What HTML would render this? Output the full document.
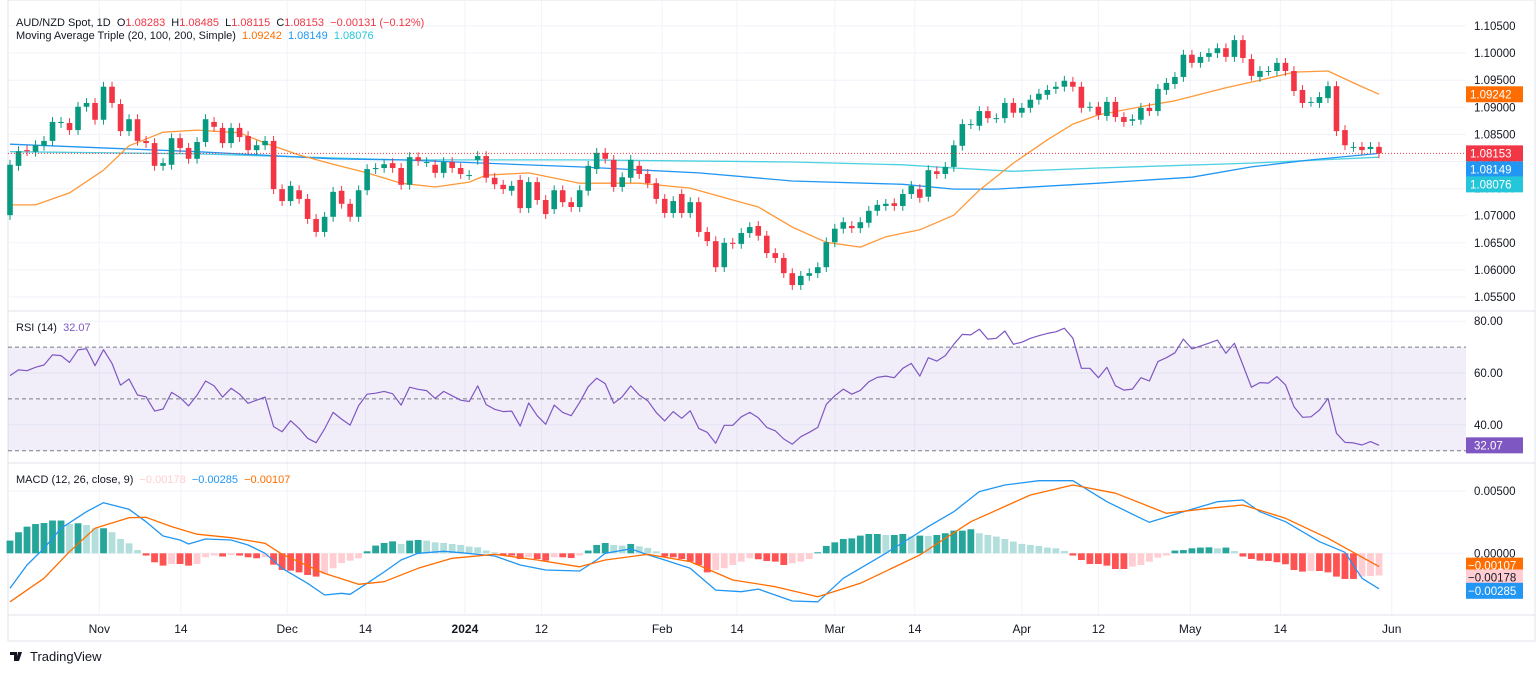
<!DOCTYPE html>
<html><head><meta charset="utf-8">
<style>
html,body{margin:0;padding:0;background:#fff;}
body{width:1536px;height:673px;overflow:hidden;font-family:"Liberation Sans",sans-serif;}
svg text{font-family:"Liberation Sans",sans-serif;}
</style></head>
<body>
<svg id="chart" width="1536" height="673" viewBox="0 0 1536 673" xmlns="http://www.w3.org/2000/svg">
  <rect x="8" y="0" width="1527" height="641" fill="#fff" stroke="#e0e3eb" stroke-width="1"/>
  <g id="grid"></g>
  <g id="price"></g>
  <g id="rsi"></g>
  <g id="macd"></g>
  <g id="axes"></g>
  <line x1="8" y1="311" x2="1535" y2="311" stroke="#e0e3eb"/>
  <line x1="8" y1="463" x2="1535" y2="463" stroke="#e0e3eb"/>
  <line x1="8" y1="615" x2="1535" y2="615" stroke="#e0e3eb"/>
  <text x="16" y="26" font-size="11" fill="#131722" xml:space="preserve">AUD/NZD Spot, 1D  O<tspan fill="#f23645">1.08283</tspan>  H<tspan fill="#f23645">1.08485</tspan>  L<tspan fill="#f23645">1.08115</tspan>  C<tspan fill="#f23645">1.08153</tspan>  <tspan fill="#f23645">−0.00131 (−0.12%)</tspan></text>
  <text x="16" y="39" font-size="11" fill="#131722" xml:space="preserve">Moving Average Triple (20, 100, 200, Simple)  <tspan fill="#ff6d00">1.09242</tspan>  <tspan fill="#2196f3">1.08149</tspan>  <tspan fill="#26c6da">1.08076</tspan></text>
  <text x="16" y="331" font-size="11" fill="#131722" xml:space="preserve">RSI (14)  <tspan fill="#7e57c2">32.07</tspan></text>
  <text x="16" y="483" font-size="11" fill="#131722" xml:space="preserve">MACD (12, 26, close, 9)  <tspan fill="#ffcdd2">−0.00178</tspan>  <tspan fill="#2196f3">−0.00285</tspan>  <tspan fill="#ff6d00">−0.00107</tspan></text>
  <g>
    <path d="M10 652h7v9h-3v-6h-4z M18 652h4l-3 9h-3z" fill="#131722"/>
    <text x="30" y="661" font-size="13" fill="#131722">TradingView</text>
  </g>
</svg>
<script>
// ---- data ----
const opens=[1.0701,1.0792,1.0821,1.0818,1.0829,1.0838,1.0871,1.0871,1.0858,1.0901,1.0908,1.0877,1.0938,1.0906,1.0856,1.0878,1.0838,1.0834,1.0792,1.0794,1.0843,1.0825,1.0805,1.0836,1.0873,1.0862,1.0834,1.0862,1.0847,1.0821,1.0830,1.0838,1.0749,1.0727,1.0747,1.0731,1.0694,1.0670,1.0698,1.0746,1.0722,1.0698,1.0747,1.0786,1.0788,1.0797,1.0788,1.0757,1.0808,1.0799,1.0794,1.0779,1.0799,1.0788,1.0775,1.0803,1.0810,1.0770,1.0757,1.0746,1.0766,1.0714,1.0762,1.0729,1.0712,1.0747,1.0725,1.0716,1.0746,1.0786,1.0816,1.0803,1.0753,1.0770,1.0792,1.0777,1.0760,1.0731,1.0705,1.0740,1.0705,1.0725,1.0670,1.0653,1.0605,1.0650,1.0648,1.0668,1.0681,1.0663,1.0631,1.0622,1.0594,1.0572,1.0589,1.0594,1.0605,1.0651,1.0676,1.0681,1.0677,1.0687,1.0709,1.0718,1.0723,1.0718,1.0740,1.0749,1.0735,1.0782,1.0777,1.0790,1.0829,1.0869,1.0866,1.0893,1.0880,1.0880,1.0908,1.0890,1.0899,1.0914,1.0923,1.0934,1.0938,1.0947,1.0938,1.0901,1.0901,1.0884,1.0910,1.0882,1.0875,1.0877,1.0899,1.0893,1.0932,1.0943,1.0956,1.0997,1.0982,1.0993,1.1000,1.1009,1.0993,1.1024,1.0989,1.0956,1.0967,1.0967,1.0982,1.0967,1.0932,1.0910,1.0908,1.0917,1.0939,1.0858,1.0827,1.0827,1.0823,1.0827];
const closes=[1.0794,1.0819,1.0819,1.0830,1.0838,1.0873,1.0873,1.0858,1.0901,1.0908,1.0877,1.0938,1.0908,1.0856,1.0878,1.0838,1.0834,1.0792,1.0797,1.0843,1.0825,1.0805,1.0836,1.0878,1.0864,1.0834,1.0862,1.0845,1.0821,1.0830,1.0838,1.0749,1.0727,1.0755,1.0731,1.0694,1.0670,1.0698,1.0744,1.0722,1.0698,1.0747,1.0786,1.0788,1.0795,1.0788,1.0757,1.0808,1.0801,1.0799,1.0779,1.0799,1.0788,1.0777,1.0775,1.0810,1.0770,1.0758,1.0749,1.0755,1.0714,1.0762,1.0729,1.0703,1.0747,1.0725,1.0716,1.0747,1.0792,1.0816,1.0805,1.0753,1.0771,1.0803,1.0777,1.0760,1.0731,1.0705,1.0727,1.0705,1.0725,1.0670,1.0653,1.0605,1.0650,1.0648,1.0668,1.0679,1.0663,1.0631,1.0622,1.0594,1.0572,1.0589,1.0594,1.0605,1.0651,1.0676,1.0688,1.0677,1.0688,1.0709,1.0720,1.0722,1.0718,1.0740,1.0755,1.0733,1.0784,1.0777,1.0790,1.0830,1.0869,1.0869,1.0893,1.0880,1.0880,1.0908,1.0890,1.0899,1.0914,1.0925,1.0932,1.0938,1.0949,1.0938,1.0899,1.0901,1.0886,1.0910,1.0882,1.0873,1.0878,1.0899,1.0893,1.0934,1.0945,1.0956,1.0997,1.0982,1.0993,1.1000,1.1009,1.0993,1.1024,1.0991,1.0958,1.0967,1.0967,1.0982,1.0967,1.0930,1.0908,1.0910,1.0919,1.0939,1.0856,1.0830,1.0827,1.0821,1.0827,1.0815];
const ma20Idx=[0,3,7,11,14,18,22,27,30,34,38,42,46,50,54,56,61,67,74,80,85,88,92,96,100,103,107,111,114,118,122,125,128,134,137,143,147,151,155,158,161];
const ma20Val=[1.0720,1.0720,1.0742,1.0784,1.0829,1.0854,1.0858,1.0853,1.0834,1.0812,1.0795,1.0779,1.0760,1.0753,1.0762,1.0775,1.0779,1.0760,1.0760,1.0751,1.0729,1.0716,1.0679,1.0651,1.0642,1.0661,1.0674,1.0701,1.0747,1.0797,1.0840,1.0869,1.0886,1.0904,1.0912,1.0936,1.0950,1.0965,1.0967,1.0945,1.0924];
const ma100Idx=[0,22,38,46,67,81,92,105,111,116,128,139,146,153,161];
const ma100Val=[1.0832,1.0818,1.0805,1.0803,1.0790,1.0779,1.0764,1.0758,1.0749,1.0749,1.0760,1.0771,1.0790,1.0803,1.0815];
const ma200Idx=[0,22,46,67,92,105,111,118,128,146,161];
const ma200Val=[1.0818,1.0814,1.0803,1.0803,1.0799,1.0794,1.0788,1.0782,1.0788,1.0797,1.0808];
const priceTicks=[1.055,1.060,1.065,1.070,1.075,1.080,1.085,1.090,1.095,1.100,1.105];
const rsiVals=[59.0,61.2,60.9,62.2,63.1,67.0,66.7,64.1,68.9,69.4,62.8,69.0,63.7,55.3,57.7,51.5,50.8,45.3,46.1,52.5,50.5,47.3,51.5,56.9,55.0,50.7,54.1,51.8,48.3,49.5,50.7,39.3,37.3,41.6,38.6,34.8,33.1,38.4,44.8,42.2,39.9,47.4,51.8,52.2,52.9,52.0,47.6,54.5,53.7,53.2,50.2,52.9,51.2,49.5,49.0,55.0,47.8,46.0,45.1,45.3,39.5,48.4,43.5,40.2,47.6,44.8,43.5,48.7,54.7,58.0,55.9,48.3,50.8,55.0,51.5,49.3,44.8,41.5,45.1,42.5,45.4,38.6,37.1,32.9,39.8,39.8,43.1,44.8,42.7,39.0,37.7,34.5,32.5,35.4,37.1,39.0,47.9,51.2,53.8,51.8,53.3,56.6,58.3,58.8,58.2,61.8,63.7,58.8,65.9,64.6,66.7,71.1,74.9,74.7,76.9,73.1,73.4,76.2,71.1,71.9,73.4,74.4,75.3,75.9,77.3,73.4,61.8,61.8,58.2,62.2,55.1,53.4,53.8,58.2,56.9,64.4,65.9,67.8,73.1,69.3,70.4,71.5,72.7,67.6,71.5,63.1,54.5,56.3,56.1,58.6,55.4,47.0,42.9,43.1,45.7,50.2,36.7,33.2,33.0,32.2,33.5,32.07];
const rsiTicks=[40,60,80];
// MACD pane values in units of 1e-5
const histVals=[102,169,214,235,243,263,263,235,241,227,201,201,169,115,80,26,-18,-72,-99,-86,-86,-99,-86,-32,-18,-26,-14,-18,-32,-40,-32,-91,-134,-139,-153,-174,-187,-166,-120,-78,-59,-40,16,62,83,96,75,102,107,102,88,83,75,67,54,48,22,8,-14,-18,-46,-32,-46,-59,-32,-32,-38,-18,22,67,83,67,62,75,56,43,16,-26,-32,-46,-67,-94,-153,-134,-120,-94,-67,-40,-48,-62,-67,-94,-80,-67,-46,8,59,88,115,120,142,155,155,147,147,155,134,142,139,147,161,182,182,193,161,147,134,115,94,75,67,59,46,40,18,-18,-54,-86,-86,-99,-126,-126,-107,-94,-67,-35,-18,22,26,40,46,48,40,46,18,-26,-46,-59,-62,-72,-88,-134,-147,-142,-142,-153,-187,-206,-206,-187,-182,-178];
const macdIdx=[0,2,4,6,9,11,14,16,18,20,21,23,26,28,30,32,35,37,39,40,42,44,46,48,51,53,57,60,63,67,69,70,73,75,77,80,83,86,88,92,95,98,103,108,111,114,117,121,125,129,133,134,138,142,145,147,150,154,157,159,161];
const macdVals=[-281,-94,40,201,334,406,353,254,139,107,75,115,107,67,0,-120,-241,-335,-321,-329,-241,-150,-54,0,16,5,-22,-94,-134,-142,-54,0,35,-11,-54,-120,-295,-308,-287,-383,-389,-201,0,214,334,495,548,583,583,414,281,249,334,414,428,334,254,93,8,-201,-285];
const signalIdx=[0,4,7,10,14,16,19,22,26,30,32,37,41,44,48,52,57,62,67,70,75,80,85,90,95,100,107,113,120,125,130,136,141,145,150,155,161];
const signalVals=[-389,-201,13,201,286,289,214,153,125,80,-8,-161,-249,-228,-120,-40,-8,-54,-108,-54,-8,-67,-214,-268,-348,-241,-14,254,468,548,482,321,361,388,281,120,-107];
const macdTicks=[0,500];
const dateLabels=["Nov","14","Dec","14","2024","12","Feb","14","Mar","14","Apr","12","May","14","Jun"];
const dateIdx=[10.5,20.1,32.6,41.8,53.5,62.5,76.7,85.5,97.0,106.4,119.0,128.0,138.8,149.4,162.5];

// ---- scales ----
const NS="http://www.w3.org/2000/svg";
const X0=10, STEP=8.503, PLOT_R=1466;
const xOf=i=>X0+i*STEP;
const yP=p=>26+(1.105-p)/0.005*27.1;
const yR=v=>373-(v-60)*2.59;
const yM=v=>553.3-v*0.1246;
function mk(tag,attrs,parent){const e=document.createElementNS(NS,tag);for(const k in attrs)e.setAttribute(k,attrs[k]);parent.appendChild(e);return e;}
const G=document.getElementById('grid'),P=document.getElementById('price'),R=document.getElementById('rsi'),M=document.getElementById('macd'),A=document.getElementById('axes');

dateIdx.forEach((d,k)=>{
  const l=mk('line',{x1:xOf(d),x2:xOf(d),y1:0,y2:615,stroke:'#f0f3fa'},G);
  
  
  const t=mk('text',{x:xOf(d),y:633,'font-size':12,'text-anchor':'middle',fill:'#131722','font-weight':dateLabels[k]==='2024'?'bold':'normal'},A);
  t.textContent=dateLabels[k];
  
  
});
priceTicks.forEach(p=>{
  const l=mk('line',{x1:8,x2:PLOT_R,y1:yP(p),y2:yP(p),stroke:'#f0f3fa'},G);
  
  
  const t=mk('text',{x:1474,y:yP(p)+4,'font-size':11.5,fill:'#131722'},A);
  t.textContent=p.toFixed(5);
  
  
});
function line(idx,vals,ys,color,name,parent,w){
  const pts=idx.map((i,k)=>xOf(i).toFixed(1)+','+ys(vals[k]).toFixed(1)).join(' ');
  const pl=mk('polyline',{points:pts,fill:'none',stroke:color,'stroke-width':w||1.3,'stroke-linejoin':'round'},parent);
  
  
}
line(ma200Idx,ma200Val,yP,'#4dd0e1','ma200-line',P);
line(ma100Idx,ma100Val,yP,'#2196f3','ma100-line',P);
line(ma20Idx,ma20Val,yP,'#ff9838','ma20-line',P);
closes.forEach((c,i)=>{
  const o=opens[i],up=c>=o,col=up?'#089981':'#f23645';
  const hi=Math.max(o,c)+0.0009,lo=Math.min(o,c)-0.0009;
  const g=mk('g',{},P);
  
  
  mk('line',{x1:xOf(i),x2:xOf(i),y1:yP(hi),y2:yP(lo),stroke:col,'stroke-width':1},g);
  const top=yP(Math.max(o,c)),h=Math.max(1,yP(Math.min(o,c))-top);
  mk('rect',{x:xOf(i)-2.8,y:top,width:5.6,height:h,fill:col},g);
});
const lastC=closes[closes.length-1];
const lp=mk('line',{x1:8,x2:PLOT_R,y1:yP(lastC),y2:yP(lastC),stroke:'#f23645','stroke-dasharray':'1,2'},P);


function tag(val,y,bg,fg,name){
  const g=mk('g',{},A);
  
  
  mk('rect',{x:1466,y:y-8,width:57,height:16,fill:bg},g);
  const t=mk('text',{x:1470,y:y+4,'font-size':11.5,fill:fg},g);t.textContent=val;
}
tag('1.09242',yP(ma20Val[ma20Val.length-1]),'#ff6d00','#fff','ma20-price-tag');
tag('1.08153',yP(lastC),'#f23645','#fff','last-price-tag');
tag('1.08149',yP(lastC)+16,'#2196f3','#fff','ma100-price-tag');
tag('1.08076',yP(lastC)+31,'#26c6da','#fff','ma200-price-tag');

const band=mk('rect',{x:8,y:yR(70),width:PLOT_R-8,height:yR(30)-yR(70),fill:'rgba(126,87,194,0.1)'},R);


rsiTicks.forEach(v=>{
  const l=mk('line',{x1:8,x2:PLOT_R,y1:yR(v),y2:yR(v),stroke:'#f0f3fa'},G);
  
  
  const t=mk('text',{x:1474,y:yR(v)+4,'font-size':11.5,fill:'#131722'},A);t.textContent=v.toFixed(2);
  
  
});
[70,50,30].forEach(v=>{
  const l=mk('line',{x1:8,x2:PLOT_R,y1:yR(v),y2:yR(v),stroke:'#787b86','stroke-dasharray':'4,3'},R);
  
  
});
line(rsiVals.map((v,i)=>i),rsiVals,yR,'#7e57c2','rsi-line',R,1.2);
{const g=mk('g',{},A);


const v=rsiVals[rsiVals.length-1];
mk('rect',{x:1466,y:yR(v)-8,width:57,height:16,fill:'#7e57c2'},g);
const t=mk('text',{x:1474,y:yR(v)+4,'font-size':11.5,fill:'#fff'},g);t.textContent=v.toFixed(2);}

macdTicks.forEach(v=>{
  const l=mk('line',{x1:8,x2:PLOT_R,y1:yM(v),y2:yM(v),stroke:'#f0f3fa'},G);
  
  
  const t=mk('text',{x:1474,y:yM(v)+4,'font-size':11.5,fill:'#131722'},A);t.textContent=(v/1e5).toFixed(5);
  
  
});
histVals.forEach((h,i)=>{
  const prev=i>0?histVals[i-1]:h;
  let col;
  if(h>=0)col=h>=prev?'#26a69a':'#b2dfdb';else col=h<=prev?'#ff5252':'#ffcdd2';
  const y0=yM(0),y1=yM(h);
  const r=mk('rect',{x:xOf(i)-3.4,y:Math.min(y0,y1),width:6.8,height:Math.max(0.8,Math.abs(y1-y0)),fill:col},M);
  
  
});
line(macdIdx,macdVals,yM,'#2196f3','macd-line',M,1.3);
line(signalIdx,signalVals,yM,'#ff6d00','signal-line',M,1.3);
function mtag(v,bg,fg,name,dy){
  const g=mk('g',{},A);
  
  
  const y=yM(v)+(dy||0);
  mk('rect',{x:1466,y:y-8,width:57,height:16,fill:bg},g);
  const t=mk('text',{x:1468,y:y+4,'font-size':11.5,fill:fg},g);t.textContent='−'+Math.abs(v/1e5).toFixed(5);
}
mtag(signalVals[signalVals.length-1],'#ff6d00','#fff','signal-value-tag',-1);
mtag(histVals[histVals.length-1],'#ffcdd2','#131722','histogram-value-tag',2);
mtag(macdVals[macdVals.length-1],'#2196f3','#fff','macd-value-tag',2);
</script>
</body></html>
